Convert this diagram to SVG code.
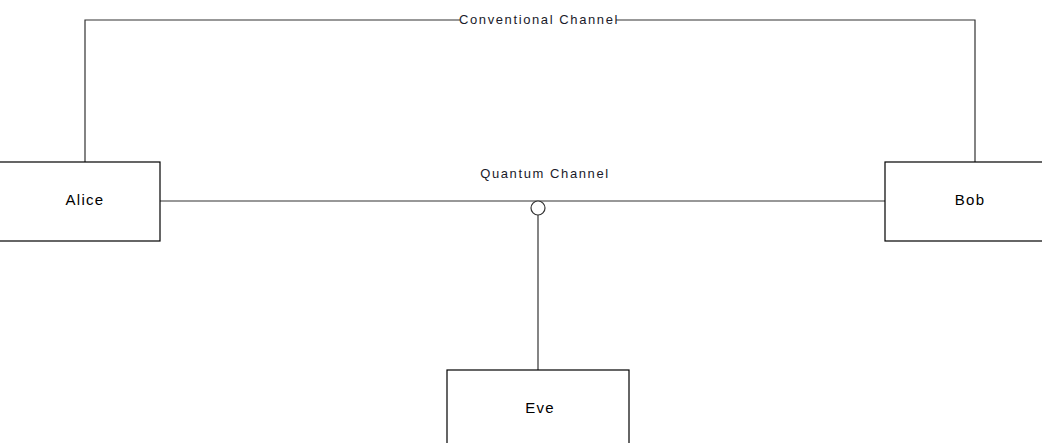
<svg xmlns="http://www.w3.org/2000/svg" width="1042" height="443" viewBox="0 0 1042 443">
  <style>
    .box { fill: #ffffff; stroke: #000000; stroke-width: 1.2; }
    .wire { fill: none; stroke: #333333; stroke-width: 1.2; }
    .lbl { font-family: "Liberation Sans", Arial, sans-serif; font-size: 13px; letter-spacing: 1.6px; fill: #1a1a2a; text-anchor: middle; }
    .name { font-family: "Liberation Sans", Arial, sans-serif; font-size: 15px; letter-spacing: 1.3px; fill: #000000; text-anchor: middle; }
  </style>
  <rect width="1042" height="443" fill="#ffffff"/>
  <g id="connectors">
    <!-- classical channel over the top -->
    <polyline class="wire" points="85,162 85,20 975,20 975,162"/>
    <rect x="460" y="11" width="156" height="17" fill="#ffffff"/>
    <text class="lbl" x="539" y="24">Conventional Channel</text>
    <!-- quantum channel -->
    <line class="wire" x1="160" y1="201" x2="885" y2="201"/>
    <text class="lbl" x="545" y="178">Quantum Channel</text>
    <!-- eavesdropper tap -->
    <line class="wire" x1="538" y1="215" x2="538" y2="370"/>
    <circle cx="538" cy="208" r="7" fill="#ffffff" stroke="#333333" stroke-width="1.2"/>
  </g>
  <g id="alice">
    <rect class="box" x="-5" y="162" width="165" height="79"/>
    <text class="name" x="85" y="205">Alice</text>
  </g>
  <g id="bob">
    <rect class="box" x="885" y="162" width="170" height="79"/>
    <text class="name" x="970" y="205">Bob</text>
  </g>
  <g id="eve">
    <rect class="box" x="447" y="370" width="182" height="80"/>
    <text class="name" x="540" y="413">Eve</text>
  </g>
</svg>
